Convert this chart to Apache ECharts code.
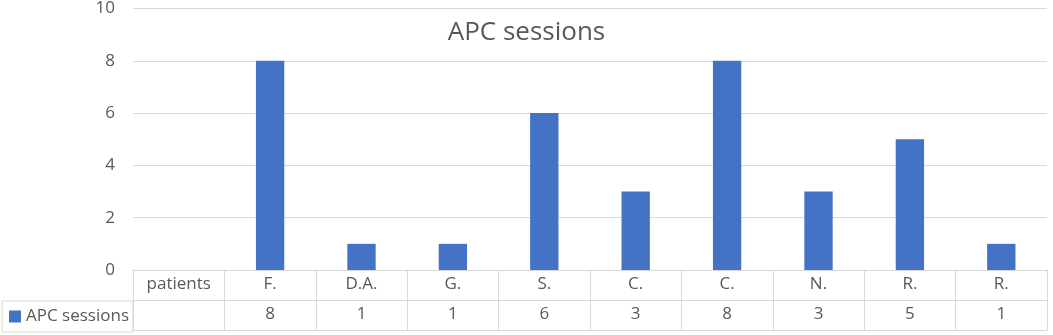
<!DOCTYPE html>
<html>
<head>
<meta charset="utf-8">
<script src="https://cdn.jsdelivr.net/npm/echarts@6/dist/echarts.min.js"></script>
<style>
  html, body { margin: 0; padding: 0; background: #fff; }
  #chart { width: 1053px; height: 335px; }
</style>
</head>
<body>
<div id="chart"></div>
<script>
// first column of the data table is the "patients" header cell
const categories = ['patients', 'F.', 'D.A.', 'G.', 'S.', 'C.', 'C.', 'N.', 'R.', 'R.'];
const sessions = [null, 8, 1, 1, 6, 3, 8, 3, 5, 1];
const yTicks = [0, 2, 4, 6, 8, 10];

const txt = '#595959';
const line = '#d9d9d9';
const font = 'Open Sans';

let chartDom = document.getElementById('chart');
let myChart = echarts.init(chartDom);

let option = {
  animation: false,
  textStyle: { fontFamily: font },
  title: {
    text: 'APC sessions',
    left: 'center',
    top: 15,
    textStyle: { color: txt, fontSize: 26, fontWeight: 'normal', fontFamily: font }
  },
  legend: {
    left: 2,
    top: 301,
    itemWidth: 12,
    itemHeight: 12,
    itemGap: 0,
    padding: [7, 4, 7, 7],
    borderColor: line,
    borderWidth: 1,
    icon: 'rect',
    textStyle: { color: txt, fontSize: 17, fontFamily: font },
    data: ['APC sessions']
  },
  grid: { left: 133, right: 6, top: 8, bottom: 65 },
  xAxis: [
    {
      type: 'category',
      data: categories,
      position: 'bottom',
      axisLine: { lineStyle: { color: line } },
      axisTick: { show: true, length: 60, interval: 0, lineStyle: { color: line } },
      axisLabel: { interval: 0, color: txt, fontSize: 17, margin: 6 }
    },
    {
      type: 'category',
      data: sessions.map(v => (v === null ? '' : String(v))),
      position: 'bottom',
      offset: 30,
      axisLine: { lineStyle: { color: line } },
      axisTick: { show: false },
      axisLabel: { interval: 0, color: txt, fontSize: 17, margin: 6 }
    },
    {
      type: 'category',
      data: categories,
      position: 'bottom',
      offset: 60,
      axisLine: { lineStyle: { color: line } },
      axisTick: { show: false },
      axisLabel: { show: false }
    }
  ],
  yAxis: {
    type: 'value',
    min: yTicks[0],
    max: yTicks[yTicks.length - 1],
    interval: 2,
    axisLine: { show: false },
    axisTick: { show: false },
    axisLabel: { color: txt, fontSize: 17, margin: 18 },
    splitLine: { lineStyle: { color: line } }
  },
  series: [
    {
      name: 'APC sessions',
      type: 'bar',
      xAxisIndex: 0,
      data: sessions,
      barWidth: '31%',
      itemStyle: { color: '#4472C4' }
    }
  ]
};

myChart.setOption(option);
</script>
</body>
</html>
